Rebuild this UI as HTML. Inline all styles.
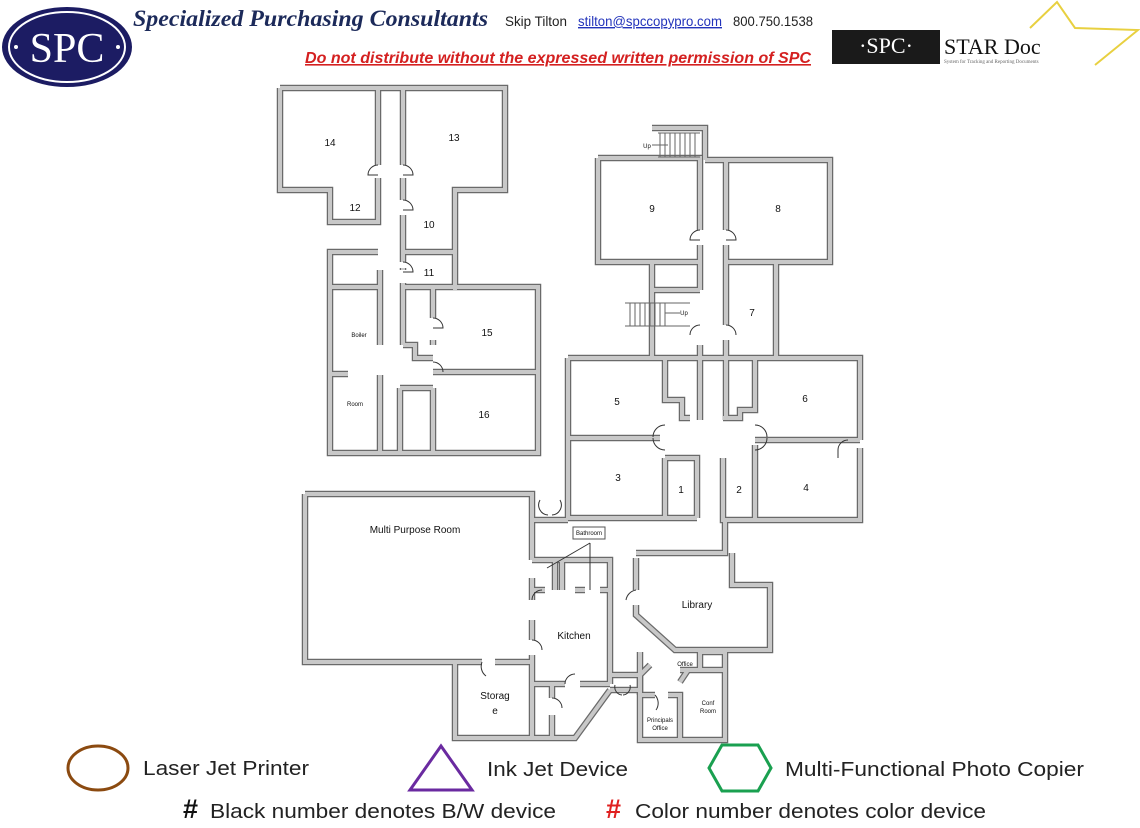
<!DOCTYPE html>
<html><head><meta charset="utf-8"><style>
body{margin:0;background:#fff;width:1140px;height:828px;overflow:hidden;font-family:"Liberation Sans",sans-serif}
svg{position:absolute;left:0;top:0}
</style></head><body>
<svg width="1140" height="828" viewBox="0 0 1140 828" xmlns="http://www.w3.org/2000/svg">
<defs>
<g id="w" fill="none">
<path d="M280,88 H505 V190 H455 V290"/>
<path d="M280,88 V190 H330 V222 H378 V190"/>
<path d="M378,88 V165 M378,178 V190 M403,88 V165 M403,178 V190"/>
<path d="M403,190 V200 M403,215 V262 M403,268 V270 M403,283 V345"/>
<path d="M403,252 H455 M403,287 H538 V453 H330 V252 H378"/>
<path d="M330,287 H378 M380,270 V345 M380,375 V453 M330,374 H348"/>
<path d="M433,287 V318 M433,340 V345 M433,372 H538 M400,388 H433 M400,388 V453 M433,388 V453"/>
<path d="M403,345 H415 V358 H433"/>
<path d="M652,128 H705 V160"/>
<path d="M598,158 V262 H700 M598,158 H700 V230 M700,245 V290 M726,158 V230 M726,245 V262"/>
<path d="M705,160 H830 V262 H726 M776,262 V358"/>
<path d="M652,262 V358 M652,290 H700"/>
<path d="M726,262 V325 M726,340 V420 M700,345 V420"/>
<path d="M568,358 H860 V440 M860,448 V520 H755 M568,358 V518 H697"/>
<path d="M665,358 V400 H682 V418 H690 M568,438 H660 M723,418 H740 V410 H755 V358"/>
<path d="M755,440 H860 M755,445 V520 M723,458 V520 H755 M665,458 H697 V518 M665,458 V518 M697,458 V470"/>
<path d="M725,520 V553 H636 M636,558 V590 M636,605 V615 L675,650 H770 V585 H732 V553"/>
<path d="M305,494 H532 V520 H568 M532,494 V560 M305,494 V662 H482 M495,662 H532"/>
<path d="M532,560 H610 V684 M532,578 V600 M532,620 V640 M532,655 V738 H575 L610,690 M455,662 V738 H532"/>
<path d="M532,590 H545 M555,560 V590 M562,560 V590 M575,590 H585 M600,590 H610"/>
<path d="M532,684 H565 M580,684 H610 M552,684 V698 M552,715 V738"/>
<path d="M610,675 H640 V695 M610,690 H640"/>
<path d="M640,652 V740 H725 V652 H700 M640,695 H655 M668,695 H680 V740 M680,670 H725 M700,652 V670 M680,682 L688,670 M650,665 L640,675"/>
</g>
</defs>
<use href="#w" stroke="#6a6a6a" stroke-width="6.5"/>
<use href="#w" stroke="#c8c8c8" stroke-width="4"/>
<g fill="none" stroke="#333" stroke-width="1">
<path d="M378,165 A10,10 0 0 0 368,175 H378 M403,165 A10,10 0 0 1 413,175 H403"/>
<path d="M403,200 A10,10 0 0 1 413,210 H403 M403,262 A10,10 0 0 1 413,272 H403"/>
<path d="M433,318 A10,10 0 0 1 443,328 H433 M433,362 A10,10 0 0 1 443,372"/>
<path d="M700,230 A10,10 0 0 0 690,240 H700 M726,230 A10,10 0 0 1 736,240 H726 M700,325 A10,10 0 0 0 690,335 M726,325 A10,10 0 0 1 736,335"/>
<path d="M665,425 A12,12 0 0 0 653,437 M665,450 A12,12 0 0 1 653,438 M755,425 A12,12 0 0 1 767,437 M755,450 A12,12 0 0 0 767,438 M848,440 A10,10 0 0 0 838,450 V458"/>
<path d="M540,500 A10,10 0 0 0 548,515 M560,500 A10,10 0 0 1 552,515"/>
<path d="M482,662 A12,12 0 0 0 486,676 M636,590 A12,12 0 0 0 626,600"/>
<path d="M532,600 A10,10 0 0 1 542,590 M532,640 A10,10 0 0 1 542,650 M565,684 A10,10 0 0 1 575,674 M552,698 A10,10 0 0 1 562,708"/>
<path d="M615,685 A8,8 0 0 0 622,695 M630,685 A8,8 0 0 1 623,695 M655,695 A12,12 0 0 1 656,710"/>
<path d="M547,568 L590,543 M590,543 V590"/>
</g>
<g fill="none" stroke="#666" stroke-width="1">
<path d="M658,133 H700 M658,157 H700 M660,133 V157 M665,133 V157 M670,133 V157 M675,133 V157 M680,133 V157 M685,133 V157 M690,133 V157 M695,133 V157"/>
<path d="M625,303 H690 M625,326 H690 M630,303 V326 M635,303 V326 M640,303 V326 M645,303 V326 M650,303 V326 M655,303 V326 M660,303 V326 M665,303 V326"/>
<path d="M652,145 H668 M665,313 H680"/>
</g>
<rect x="573" y="527" width="32" height="12" fill="#fff" stroke="#555" stroke-width="1"/>
<g font-family="'Liberation Sans',sans-serif" font-size="10" fill="#111" text-anchor="middle">
<text x="330" y="146">14</text><text x="454" y="141">13</text><text x="355" y="211">12</text>
<text x="429" y="228">10</text><text x="429" y="276">11</text><text x="487" y="336">15</text>
<text x="484" y="418">16</text><text x="652" y="212">9</text><text x="778" y="212">8</text>
<text x="752" y="316">7</text><text x="617" y="405">5</text><text x="805" y="402">6</text>
<text x="618" y="481">3</text><text x="681" y="493">1</text><text x="739" y="493">2</text>
<text x="806" y="491">4</text>
<text x="415" y="533">Multi Purpose Room</text><text x="574" y="639">Kitchen</text>
<text x="697" y="608">Library</text><text x="495" y="699">Storag</text><text x="495" y="714">e</text>
<g font-size="6"><text x="359" y="337">Boiler</text><text x="355" y="406">Room</text>
<text x="589" y="535">Bathroom</text><text x="685" y="666">Office</text>
<text x="708" y="705">Conf</text><text x="708" y="713">Room</text>
<text x="660" y="722">Principals</text><text x="660" y="730">Office</text>
<text x="647" y="148">Up</text><text x="684" y="315">Up</text></g>
</g>
<ellipse cx="67" cy="47" rx="65" ry="40" fill="#1c1c63"/>
<ellipse cx="67" cy="47" rx="58" ry="35" fill="none" stroke="#fff" stroke-width="2"/>
<text x="67" y="62" font-family="'Liberation Serif',serif" font-size="42" fill="#fff" text-anchor="middle">SPC</text>
<circle cx="16" cy="47" r="2" fill="#fff"/><circle cx="118" cy="47" r="2" fill="#fff"/>
<text x="133" y="26" font-family="'Liberation Serif',serif" font-style="italic" font-weight="bold" font-size="23" fill="#1c2a5a" textLength="355" lengthAdjust="spacingAndGlyphs">Specialized Purchasing Consultants</text>
<text x="505" y="26" font-size="14" fill="#222" textLength="62" lengthAdjust="spacingAndGlyphs">Skip Tilton</text>
<text x="578" y="26" font-size="14" fill="#2233bb" text-decoration="underline" textLength="144" lengthAdjust="spacingAndGlyphs">stilton@spccopypro.com</text>
<text x="733" y="26" font-size="14" fill="#222" textLength="80" lengthAdjust="spacingAndGlyphs">800.750.1538</text>
<text x="305" y="63" font-size="16" font-weight="bold" font-style="italic" fill="#d42020" text-decoration="underline" textLength="506" lengthAdjust="spacingAndGlyphs">Do not distribute without the expressed written permission of SPC</text>
<path d="M1030,28 L1057,2 L1075,28 L1138,30 L1095,65" fill="none" stroke="#e8d040" stroke-width="2"/>
<rect x="832" y="30" width="108" height="34" fill="#1a1a1a"/>
<text x="886" y="53" font-family="'Liberation Serif',serif" font-size="22" fill="#fff" text-anchor="middle">·SPC·</text>
<text x="944" y="54" font-family="'Liberation Serif',serif" font-size="22" fill="#111">STAR Doc</text>
<text x="944" y="63" font-family="'Liberation Serif',serif" font-size="5" fill="#666">System for Tracking and Reporting Documents</text>
<ellipse cx="98" cy="768" rx="30" ry="22" fill="none" stroke="#8b4a10" stroke-width="3"/>
<text x="143" y="775" font-size="20" fill="#222" textLength="166" lengthAdjust="spacingAndGlyphs">Laser Jet Printer</text>
<path d="M441,746 L472,790 L410,790 Z" fill="none" stroke="#6a2aa0" stroke-width="3"/>
<text x="487" y="776" font-size="20" fill="#222" textLength="141" lengthAdjust="spacingAndGlyphs">Ink Jet Device</text>
<path d="M722,745 H758 L771,768 L758,791 H722 L709,768 Z" fill="none" stroke="#1aa050" stroke-width="3"/>
<text x="785" y="776" font-size="20" fill="#222" textLength="299" lengthAdjust="spacingAndGlyphs">Multi-Functional Photo Copier</text>
<text x="183" y="818" font-size="27" font-weight="bold" fill="#111">#</text>
<text x="210" y="818" font-size="20" fill="#222" textLength="346" lengthAdjust="spacingAndGlyphs">Black number denotes B/W device</text>
<text x="606" y="818" font-size="27" font-weight="bold" fill="#e02020">#</text>
<text x="635" y="818" font-size="20" fill="#222" textLength="351" lengthAdjust="spacingAndGlyphs">Color number denotes color device</text>
</svg>
</body></html>
